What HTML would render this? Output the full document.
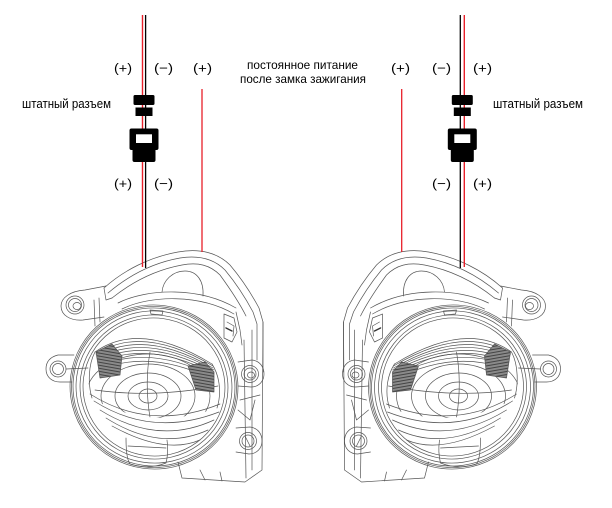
<!DOCTYPE html>
<html>
<head>
<meta charset="utf-8">
<style>
html,body{margin:0;padding:0;background:#fff;}
svg{display:block;}
text{font-family:"Liberation Sans","Noto Sans CJK SC",sans-serif;fill:#000;}
</style>
</head>
<body>
<svg width="612" height="508" viewBox="0 0 612 508" xmlns="http://www.w3.org/2000/svg">
<defs>
  <pattern id="hatch" width="3" height="3" patternUnits="userSpaceOnUse" patternTransform="rotate(10)">
    <rect width="3" height="3" fill="#8a8a8a"/>
    <line x1="0" y1="0.5" x2="3" y2="0.5" stroke="#444" stroke-width="1"/>
  </pattern>
  <clipPath id="eyeclip">
    <path d="M95,352 Q140,330 212,366 C221,378 221,398 217,408 Q150,432 91,398 C87,385 88,365 95,352 Z"/>
  </clipPath>
  <g id="lamp" fill="none" stroke="#555" stroke-width="0.7" stroke-linejoin="round" stroke-linecap="round">
    <!-- housing top band -->
    <path d="M104,288 C124,270 150,257 178,252 C200,248 218,253 230,265 C241,278 251,293 259,308 L263,322 L263,372"/>
    <path d="M108,293 C128,276 152,263 180,258 C199,255 214,259 225,270 C235,282 245,297 253,312 L257,324 L257,360"/>
    <path d="M112,298 C132,282 155,270 182,265 C198,262 210,265 220,275 C228,286 238,300 246,316"/>
    <path d="M104,288 L106,300 L112,298"/>
    <!-- dome -->
    <path d="M162,292 C163,280 173,271 185,271 C197,271 204,281 203,296"/>
    <!-- cylinder top edges -->
    <path d="M118,303 C148,288 200,287 236,308"/>
    <path d="M122,309 C150,295 200,294 234,314"/>
    <!-- latch on bracket -->
    <path d="M224,314 L234,318 L237,332 L232,342 L224,338 Z"/>
    <path d="M227,322 L234,326 L233,336" />
    <path d="M226,328 L232,331" stroke="#333" stroke-width="1.4"/>
    <!-- right bracket -->
    <path d="M236,312 L240,330 L242,345"/>
    <path d="M263,322 L262,470 L245,482 L182,478 L178,462"/>
    <path d="M252,330 L252,470"/>
    <path d="M244,340 L246,478"/>
    <path d="M240,400 L260,395"/>
    <path d="M238,410 L250,420 L255,400"/>
    <path d="M200,470 L205,480 M220,472 L222,481"/>
    <!-- top-left tab -->
    <path d="M106,286 L85,290 C70,291 61,298 61,306 C61,315 70,321 83,320 L104,317"/>
    <circle cx="75" cy="305" r="9"/>
    <circle cx="75" cy="305" r="6.5"/>
    <ellipse cx="77" cy="306" rx="4" ry="3.5"/>
    <path d="M94,300 L95,326 M99,298 L100,322"/>
    <!-- left tab -->
    <path d="M74,355 L58,355 C50,357 46,362 46,369 C46,377 52,382 60,382 L72,382"/>
    <circle cx="58" cy="369" r="8"/>
    <circle cx="58" cy="369" r="5.5"/>
    <path d="M66,369 L88,368"/>
    <!-- right tab -->
    <path d="M238,362 L252,360 C260,361 264,367 264,374 C264,381 259,387 251,387 L238,386"/>
    <circle cx="250" cy="374" r="8.5"/>
    <circle cx="250" cy="374" r="6"/>
    <ellipse cx="251" cy="375" rx="3.5" ry="3"/>
    <!-- lower right tab -->
    <path d="M236,428 L250,427 C258,428 262,434 262,441 C262,448 257,454 249,454 L236,452"/>
    <circle cx="248" cy="441" r="8.5"/>
    <circle cx="248" cy="441" r="6"/>
    <path d="M245,436 L250,446"/>
    <!-- front ring -->
    <g transform="rotate(8 154 387)">
      <ellipse cx="154" cy="387" rx="84" ry="82"/>
      <ellipse cx="154" cy="387" rx="82.5" ry="80.5"/>
      <ellipse cx="154" cy="387" rx="81" ry="79"/>
      <ellipse cx="154" cy="387" rx="78" ry="76"/>
      <ellipse cx="154" cy="387" rx="74" ry="72"/>
      <ellipse cx="154" cy="387" rx="71" ry="69"/>
    </g>
    <path d="M150,310 L163,311 L162,315 L151,314 Z"/>
    <!-- bottom small tab -->
    <path d="M126,438 C126,450 127,460 130,464 Q148,470 166,463 C168,455 168,447 167,440"/>
    <path d="M128,446 L166,448"/>
    <!-- eye upper lid striations -->
    <path d="M95,352 Q140,320 212,364"/>
    <path d="M96,354 Q142,324 213,366"/>
    <path d="M97,356 Q144,328 213,368"/>
    <path d="M98,358 Q146,332 214,370"/>
    <path d="M99,360 Q148,336 214,372"/>
    <path d="M100,362 Q150,340 214,374"/>
    <path d="M102,365 Q152,345 214,377"/>
    <path d="M104,368 Q154,350 214,380"/>
    <!-- eye sides -->
    <path d="M95,352 C88,365 88,385 92,398"/>
    <path d="M212,364 C221,378 221,396 217,408"/>
    <!-- lower lid -->
    <path d="M90,394 Q150,432 220,404"/>
    <path d="M94,401 Q152,438 219,412"/>
    <path d="M100,410 Q158,446 214,420"/>
    <path d="M106,418 Q160,452 208,430"/>
    <path d="M112,426 Q165,455 200,440"/>
    <!-- reflector -->
    <g clip-path="url(#eyeclip)">
      <ellipse cx="148" cy="396" rx="9" ry="7"/>
      <ellipse cx="148" cy="396" rx="20" ry="14"/>
      <ellipse cx="148" cy="396" rx="33" ry="23"/>
      <ellipse cx="148" cy="396" rx="47" ry="32"/>
      <ellipse cx="148" cy="396" rx="62" ry="42"/>
      <path d="M150,352 C146,375 146,400 152,428"/>
      <path d="M95,390 C130,395 170,395 218,386"/>
    </g>
    <!-- hatched dark areas -->
    <path d="M96,352 L112,344 L122,356 L120,375 L100,378 Z" fill="url(#hatch)"/>
    <path d="M188,366 L205,362 L214,372 L214,392 L196,390 Z" fill="url(#hatch)"/>
  </g>
</defs>

<!-- Left lamp -->
<use href="#lamp"/>
<!-- Right lamp (mirror) -->
<use href="#lamp" transform="translate(606.5,0) scale(-1,1)"/>

<!-- Left wires -->
<line x1="142.5" y1="15" x2="142.5" y2="267" stroke="#e8202a" stroke-width="1.4"/>
<line x1="145.6" y1="15" x2="145.6" y2="268" stroke="#000" stroke-width="1.3"/>
<line x1="202" y1="89" x2="202" y2="252" stroke="#e8202a" stroke-width="1.3"/>
<!-- Left connector -->
<rect x="133.5" y="95" width="21" height="10" rx="1.5" fill="#000"/>
<rect x="135.5" y="107.5" width="17" height="8.5" fill="#000"/>
<path d="M131.5,128.5 H156.5 Q158.5,128.5 158.5,130.5 V148 Q158.5,150 156.5,150 H155.5 V160 Q155.5,162 153.5,162 H134.5 Q132.5,162 132.5,160 V150 H131.5 Q129.5,150 129.5,148 V130.5 Q129.5,128.5 131.5,128.5 Z" fill="#000"/>
<rect x="136" y="134.3" width="16" height="8.7" fill="#fff"/>

<!-- Right wires -->
<line x1="460.3" y1="15" x2="460.3" y2="268" stroke="#000" stroke-width="1.3"/>
<line x1="464.3" y1="15" x2="464.3" y2="267" stroke="#e8202a" stroke-width="1.4"/>
<line x1="401.7" y1="89" x2="401.7" y2="252" stroke="#e8202a" stroke-width="1.3"/>
<!-- Right connector -->
<rect x="451.8" y="95" width="21" height="10" rx="1.5" fill="#000"/>
<rect x="453.8" y="107.5" width="17" height="8.5" fill="#000"/>
<path d="M449.8,128.5 H474.8 Q476.8,128.5 476.8,130.5 V148 Q476.8,150 474.8,150 H473.8 V160 Q473.8,162 471.8,162 H452.8 Q450.8,162 450.8,160 V150 H449.8 Q447.8,150 447.8,148 V130.5 Q447.8,128.5 449.8,128.5 Z" fill="#000"/>
<rect x="454.3" y="134.3" width="16" height="8.7" fill="#fff"/>

<!-- Labels left -->
<text x="114" y="72.5" font-size="13" textLength="18" lengthAdjust="spacingAndGlyphs">(+)</text>
<text x="154" y="72.5" font-size="13" textLength="19" lengthAdjust="spacingAndGlyphs">(−)</text>
<text x="193" y="72.5" font-size="13" textLength="19" lengthAdjust="spacingAndGlyphs">(+)</text>
<text x="22" y="108" font-size="12.5" textLength="89" lengthAdjust="spacingAndGlyphs">штатный разъем</text>
<text x="114" y="188" font-size="13" textLength="18" lengthAdjust="spacingAndGlyphs">(+)</text>
<text x="154" y="188" font-size="13" textLength="19" lengthAdjust="spacingAndGlyphs">(−)</text>

<!-- Center labels -->
<text x="247" y="69" font-size="12" textLength="111" lengthAdjust="spacingAndGlyphs">постоянное питание</text>
<text x="240" y="83" font-size="12" textLength="126" lengthAdjust="spacingAndGlyphs">после замка зажигания</text>

<!-- Labels right -->
<text x="391" y="72.5" font-size="13" textLength="19" lengthAdjust="spacingAndGlyphs">(+)</text>
<text x="432" y="72.5" font-size="13" textLength="19" lengthAdjust="spacingAndGlyphs">(−)</text>
<text x="473" y="72.5" font-size="13" textLength="19" lengthAdjust="spacingAndGlyphs">(+)</text>
<text x="493" y="108" font-size="12.5" textLength="90" lengthAdjust="spacingAndGlyphs">штатный разъем</text>
<text x="432" y="188" font-size="13" textLength="19" lengthAdjust="spacingAndGlyphs">(−)</text>
<text x="473" y="188" font-size="13" textLength="19" lengthAdjust="spacingAndGlyphs">(+)</text>
</svg>
</body>
</html>
